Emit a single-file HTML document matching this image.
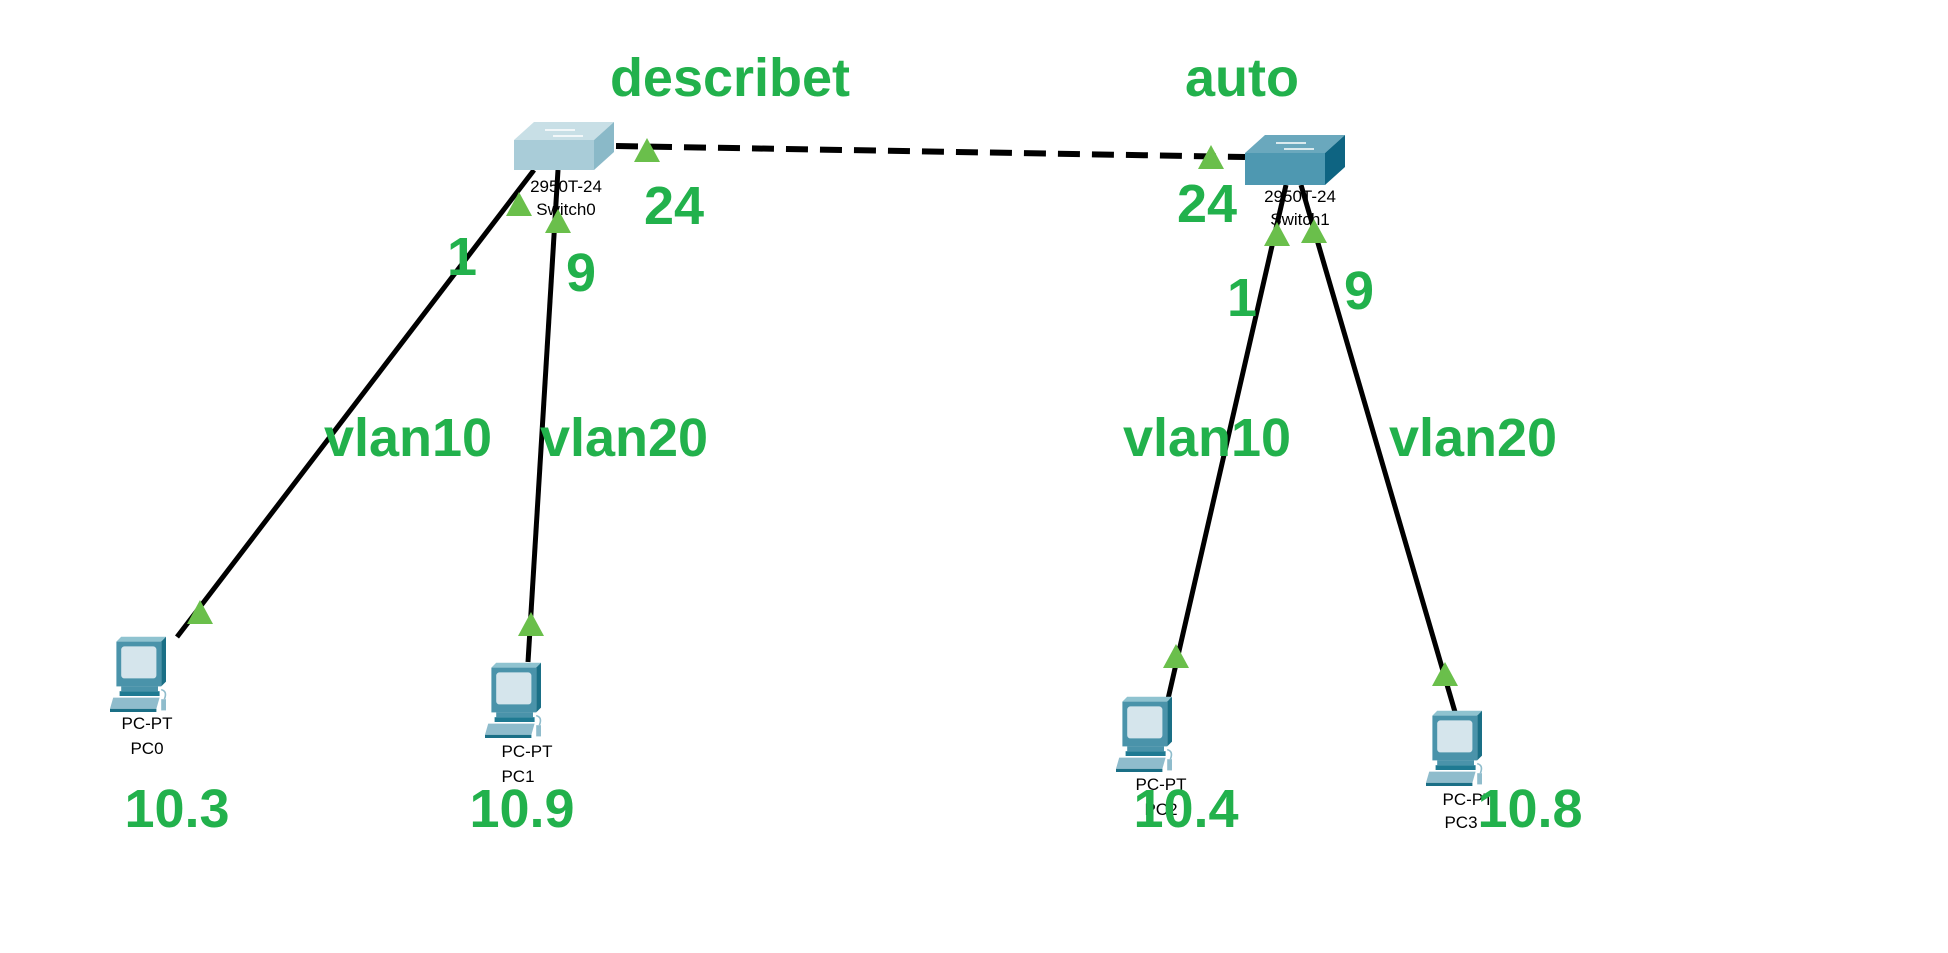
<!DOCTYPE html>
<html><head><meta charset="utf-8"><style>
html,body{margin:0;padding:0;background:#fff;}
svg{display:block}
.g{fill:#22b14c;font-family:"Liberation Sans","Noto Sans CJK SC",sans-serif;font-weight:bold;text-anchor:middle}
.s{fill:#000;font-family:"Liberation Sans",sans-serif;font-size:17px;text-anchor:middle}
</style></head><body>
<svg width="1948" height="953" viewBox="0 0 1948 953" xmlns="http://www.w3.org/2000/svg">
<defs>
<g id="pc" transform="scale(0.8)">
  <polygon points="8,2 64,2 70,-4 14,-4" fill="#8fc3d0"/>
  <polygon points="64,2 70,-4 70,52 64,58" fill="#1a6f86"/>
  <rect x="8" y="2" width="56" height="56" fill="#4a93aa"/>
  <rect x="14" y="8" width="44" height="40" rx="4" fill="#d5e5ec"/>
  <rect x="14" y="58" width="46" height="6" fill="#4a93aa"/>
  <rect x="12" y="64" width="50" height="6" fill="#1f7a92"/>
  <polygon points="4,72 62,72 58,86 0,86" fill="#8fbccc"/>
  <rect x="0" y="86" width="58" height="4" fill="#1a6f86"/>
  <rect x="64" y="74" width="6" height="14" fill="#8fbccc"/>
  <path d="M64,62 q8,2 4,12" stroke="#8fbccc" fill="none" stroke-width="2"/>
</g>
<polygon id="tri" points="0,-12 -13,12 13,12" fill="#6abf4b"/>
</defs>

<line x1="616" y1="146" x2="1245" y2="157" stroke="#000" stroke-width="6" stroke-dasharray="22,12"/>
<line x1="534" y1="170" x2="177" y2="637" stroke="#000" stroke-width="5"/>
<line x1="558" y1="170" x2="528" y2="662" stroke="#000" stroke-width="5"/>
<line x1="1286" y1="185" x2="1168" y2="699" stroke="#000" stroke-width="5"/>
<line x1="1301" y1="185" x2="1455" y2="712" stroke="#000" stroke-width="5"/>

<polygon points="514,140 534,122 614,122 594,140" fill="#c8dfe6"/>
<polygon points="594,140 614,122 614,152 594,170" fill="#8ab9c8"/>
<rect x="514" y="140" width="80" height="30" fill="#a9ccd8"/>
<path d="M545,130 h30 M553,136 h30" stroke="#fff" stroke-width="1.5"/>
<polygon points="1245,153 1265,135 1345,135 1325,153" fill="#6aa8bd"/>
<polygon points="1325,153 1345,135 1345,167 1325,185" fill="#0e6482"/>
<rect x="1245" y="153" width="80" height="32" fill="#4e98b1"/>
<path d="M1276,143 h30 M1284,149 h30" stroke="#fff" stroke-width="1.5"/>

<text class="s" x="566" y="192">2950T-24</text>
<text class="s" x="566" y="215">Switch0</text>
<text class="s" x="1300" y="202">2950T-24</text>
<text class="s" x="1300" y="225">Switch1</text>

<g transform="translate(110,640)"><use href="#pc"/></g>
<g transform="translate(485,666)"><use href="#pc"/></g>
<g transform="translate(1116,700)"><use href="#pc"/></g>
<g transform="translate(1426,714)"><use href="#pc"/></g>
<text class="s" x="147" y="729">PC-PT</text>
<text class="s" x="147" y="754">PC0</text>
<text class="s" x="527" y="757">PC-PT</text>
<text class="s" x="518" y="782">PC1</text>
<text class="s" x="1161" y="790">PC-PT</text>
<text class="s" x="1161" y="815">PC2</text>
<text class="s" x="1468" y="805">PC-PT</text>
<text class="s" x="1461" y="828">PC3</text>

<use href="#tri" x="647" y="150"/>
<use href="#tri" x="1211" y="157"/>
<use href="#tri" x="519" y="204"/>
<use href="#tri" x="558" y="221"/>
<use href="#tri" x="200" y="612"/>
<use href="#tri" x="531" y="624"/>
<use href="#tri" x="1277" y="234"/>
<use href="#tri" x="1314" y="231"/>
<use href="#tri" x="1176" y="656"/>
<use href="#tri" x="1445" y="674"/>

<g class="g" font-size="54">
<text x="730" y="96">describet</text>
<text x="1242" y="96">auto</text>
<text x="674" y="224">24</text>
<text x="1207" y="222">24</text>
<text x="462" y="275">1</text>
<text x="581" y="291">9</text>
<text x="1242" y="316">1</text>
<text x="1359" y="309">9</text>
<text x="408" y="456">vlan10</text>
<text x="624" y="456">vlan20</text>
<text x="1207" y="456">vlan10</text>
<text x="1473" y="456">vlan20</text>
<text x="177" y="827">10.3</text>
<text x="522" y="827">10.9</text>
<text x="1186" y="827">10.4</text>
<text x="1530" y="827">10.8</text>
</g>
</svg>
</body></html>
